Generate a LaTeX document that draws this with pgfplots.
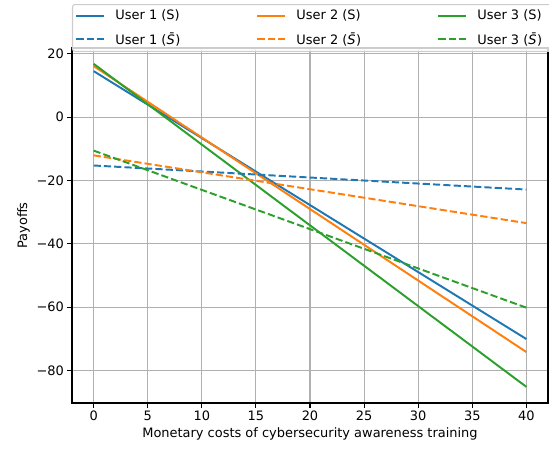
\documentclass[border=0pt]{standalone}
\usepackage{pgfplots}
\pgfplotsset{compat=1.18}
\usepackage{fontspec}
\setmainfont{DejaVu Sans}
\definecolor{tabblue}{HTML}{1F77B4}
\definecolor{taborange}{HTML}{FF7F0E}
\definecolor{tabgreen}{HTML}{2CA02C}
\newcommand{\fs}{\fontsize{13}{15}\selectfont}
\newcommand{\lt}[1]{\makebox[141bp][l]{\rule[-3bp]{0pt}{11bp}#1}}
\newcommand{\ltl}[1]{\makebox[74bp][l]{\rule[-3bp]{0pt}{11bp}#1}}
\begin{document}
\begin{tikzpicture}
\useasboundingbox (-72bp,-47bp) rectangle (477bp,403bp);
\begin{axis}[
  at={(0,0)}, anchor=south west,
  scale only axis, width=476bp, height=355bp,
  xmin=-2, xmax=42, ymin=-90.3, ymax=21.8,
  xtick={0,5,...,40},
  ytick={-80,-60,-40,-20,0,20},
  yticklabels={−80,−60,−40,−20,0,20},
  /pgf/number format/assume math mode=true,
  tick label style={font=\fs},
  label style={font=\fs},
  xlabel={Monetary costs of cybersecurity awareness training},
  ylabel={Payoffs},
  grid=major,
  major grid style={color=black!31, line width=1.04bp},
  axis line style={line width=1.04bp},
  tick align=outside,
  major tick length=4.55bp,
  every tick/.style={black, line width=1.04bp},
  xtick pos=bottom, ytick pos=left,
  legend columns=3,
  legend style={at={(0,1.1239)}, anchor=north west,
    font=\fs, fill=white, fill opacity=0.8, text opacity=1,
    draw=black!20, rounded corners=2.5bp, line width=1.04bp,
    inner xsep=3bp, inner ysep=5.5bp, row sep=11bp,
    nodes={inner sep=0pt, anchor=west},
    /tikz/every odd column/.append style={column sep=10bp}},
  legend image code/.code={\draw[#1] (0bp,0bp) -- (28bp,0bp);},
  every axis plot/.append style={line width=1.95bp},
]
\addplot[tabblue] coordinates {(0,14.5) (40,-70.1)};
\addlegendentry{\lt{User 1 (S)}}
\addplot[taborange] coordinates {(0,16.1) (40,-74.2)};
\addlegendentry{\lt{User 2 (S)}}
\addplot[tabgreen] coordinates {(0,16.8) (40,-85.2)};
\addlegendentry{\ltl{User 3 (S)}}
\addplot[tabblue, dash pattern=on 7.2bp off 3.1bp] coordinates {(0,-15.3) (40,-22.9)};
\addlegendentry{\lt{User 1 (\textit{S̄})}}
\addplot[taborange, dash pattern=on 7.2bp off 3.1bp] coordinates {(0,-12.1) (40,-33.5)};
\addlegendentry{\lt{User 2 (\textit{S̄})}}
\addplot[tabgreen, dash pattern=on 7.2bp off 3.1bp] coordinates {(0,-10.6) (40,-60.2)};
\addlegendentry{\ltl{User 3 (\textit{S̄})}}
\end{axis}
\end{tikzpicture}
\end{document}
